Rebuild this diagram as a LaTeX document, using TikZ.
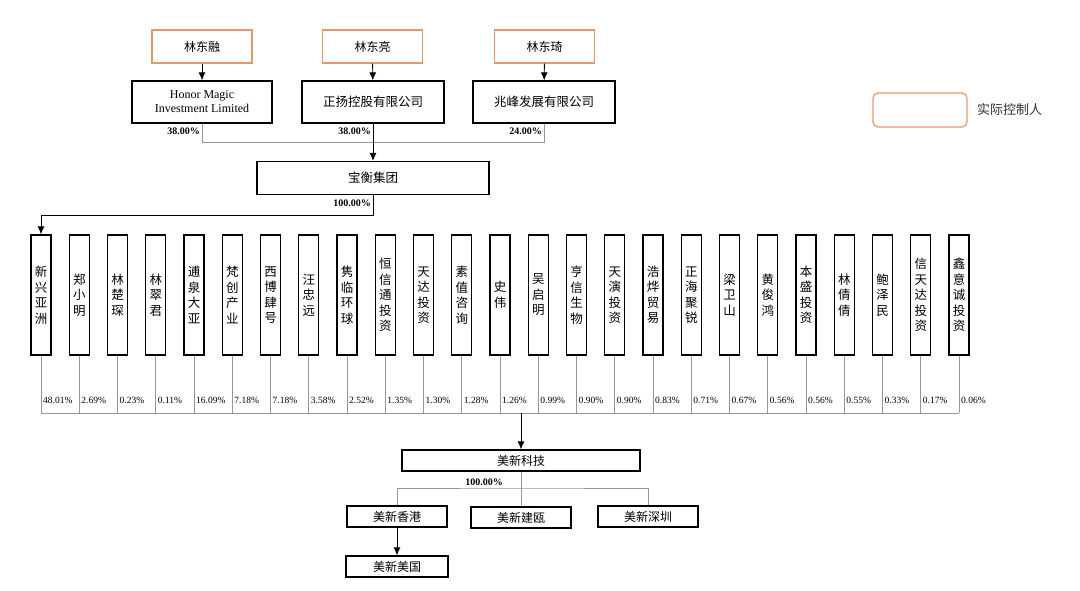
\documentclass[tikz,border=0pt]{standalone}
\usepackage{fontspec}
\setmainfont{Liberation Serif}
\newfontfamily\cjk{Noto Sans CJK SC}
\usetikzlibrary{arrows.meta}
\definecolor{ctrlorange}{RGB}{232,152,104}
\definecolor{linkgray}{RGB}{150,150,150}
\tikzset{
	ctrl/.style={draw=ctrlorange, line width=1.2pt, minimum width=100, minimum height=33, inner sep=0pt, font=\cjk\fontsize{12}{14}\selectfont},
	ent/.style={draw, line width=1.3pt, minimum height=42, inner sep=0pt, align=center, font=\fontsize{12}{14}\selectfont},
	sub/.style={draw, line width=1.3pt, minimum width=100, minimum height=21, inner sep=0pt, font=\cjk\fontsize{12}{14}\selectfont},
	colbox/.style={draw, line width=1.3pt, minimum width=20, minimum height=120, inner sep=0pt, align=center, font=\cjk\fontsize{12.5}{15.5}\selectfont},
	link/.style={draw=linkgray, line width=0.8pt},
	arr/.style={draw, line width=0.9pt, -{Latex[length=8pt,width=7pt]}},
	pct/.style={font=\fontsize{9.5}{10}\selectfont, inner sep=0pt},
	bpct/.style={font=\bfseries\fontsize{10}{11}\selectfont, inner sep=0pt}
}
\begin{document}
\begin{tikzpicture}[x=1pt,y=-1pt]
\useasboundingbox (0,0) rectangle (1080,590);
% actual controllers
\node[ctrl] (lr) at (202,46.5) {林东融};
\node[ctrl] (ll) at (372.5,46.5) {林东亮};
\node[ctrl] (lq) at (544.5,46.5) {林东琦};
\node[ent, minimum width=140] (hm) at (202,102) {Honor Magic\\Investment Limited};
\node[ent, minimum width=142, font=\cjk\fontsize{12.5}{14}\selectfont] (zy) at (373,102) {正扬控股有限公司};
\node[ent, minimum width=142, font=\cjk\fontsize{12.5}{14}\selectfont] (zf) at (544,102) {兆峰发展有限公司};
\draw[arr] (lr) -- (hm);
\draw[arr] (ll) -- (zy);
\draw[arr] (lq) -- (zf);
\node[bpct, anchor=north east] (p1) at ([xshift=-2pt,yshift=-4pt]hm.south) {38.00\%};
\node[bpct, anchor=north east] (p2) at ([xshift=-2pt,yshift=-4pt]zy.south) {38.00\%};
\node[bpct, anchor=north east] (p3) at ([xshift=-2pt,yshift=-4pt]zf.south) {24.00\%};
\coordinate (jt) at (373,142.5);
\draw[link] (hm.south) |- (jt) -| (zf.south);
\node[ent, minimum width=232, minimum height=33, font=\cjk\fontsize{12.5}{14}\selectfont] (bh) at (373,178) {宝衡集团};
\draw[arr] (zy.south) -- (bh.north);
\node[bpct, anchor=north east] (p4) at ([xshift=-2pt,yshift=-4pt]bh.south) {100.00\%};
% shareholders
\foreach \n/\p [count=\i from 0] in {新\\兴\\亚\\洲/48.01, 郑\\小\\明/2.69, 林\\楚\\琛/0.23, 林\\翠\\君/0.11, 逋\\泉\\大\\亚/16.09, 梵\\创\\产\\业/7.18, 西\\博\\肆\\号/7.18, 汪\\忠\\远/3.58, 隽\\临\\环\\球/2.52, 恒\\信\\通\\投\\资/1.35, 天\\达\\投\\资/1.30, 素\\值\\咨\\询/1.28, 史\\伟/1.26, 吴\\启\\明/0.99, 亨\\信\\生\\物/0.90, 天\\演\\投\\资/0.90, 浩\\烨\\贸\\易/0.83, 正\\海\\聚\\锐/0.71, 梁\\卫\\山/0.67, 黄\\俊\\鸿/0.56, 本\\盛\\投\\资/0.56, 林\\倩\\倩/0.55, 鲍\\泽\\民/0.33, 信\\天\\达\\投\\资/0.17, 鑫\\意\\诚\\投\\资/0.06} {
	\node[colbox] (c\i) at (41+38.25*\i,295) {\n};
	\coordinate (b\i) at (41+38.25*\i,413);
	\draw[link] (c\i.south) -- (b\i);
	\node[pct, anchor=west] (q\i) at (43+38.25*\i,400) {\p\%};
}
\draw[link] (b0) -- (b24);
\draw[arr] (bh.south) -- ++(0,20) -| (c0.north);
% company and subsidiaries
\node[sub, minimum width=238] (mx) at (521,460.5) {美新科技};
\coordinate (tap) at (521,413);
\draw[arr] (tap) -- (mx.north);
\node[bpct] (p5) at (484,482) {100.00\%};
\node[sub] (hk) at (397,516.5) {美新香港};
\node[sub] (jo) at (521,517.5) {美新建瓯};
\node[sub] (sz) at (648,516.5) {美新深圳};
\node[sub, minimum width=102] (us) at (397,566.5) {美新美国};
\coordinate (js) at (521,488);
\draw[link] (mx.south) -- (jo.north);
\draw[link] (hk.north) |- (js) -| (sz.north);
\draw[arr] (hk.south) -- (us.north);
% legend
\node[draw=ctrlorange, line width=1.2pt, rounded corners=5pt, minimum width=94, minimum height=34] (lg) at (920,110) {};
\node[anchor=west, text=black!80, font=\cjk\fontsize{13}{15}\selectfont] (lgt) at ([xshift=6pt]lg.east) {实际控制人};
\end{tikzpicture}
\end{document}
